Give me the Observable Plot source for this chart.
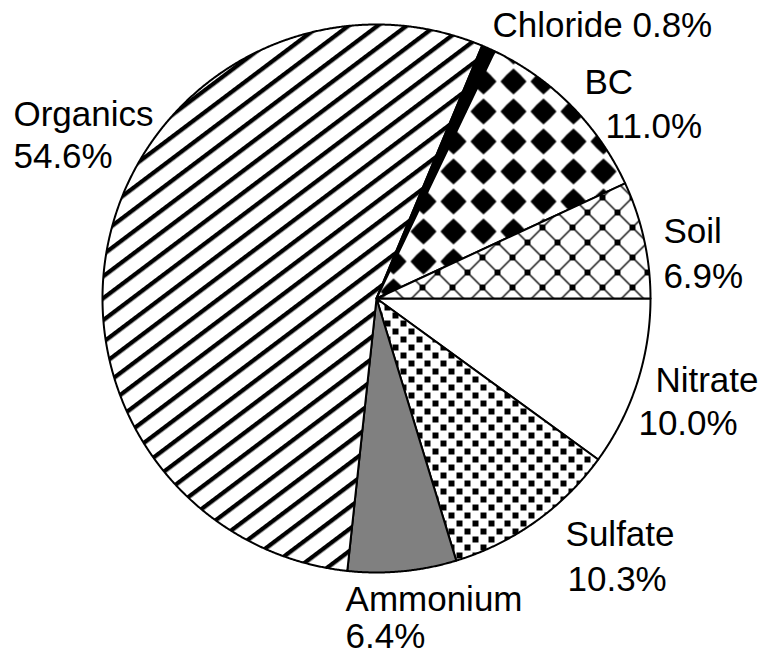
<!DOCTYPE html>
<html><head><meta charset="utf-8">
<script src="https://cdn.jsdelivr.net/npm/d3@7"></script>
<script src="https://cdn.jsdelivr.net/npm/@observablehq/plot@0.6"></script>
<style>body{margin:0;background:#fff} svg{display:block}</style>
</head><body><div id="chart"></div>
<script>
// ---- data (clockwise from 3 o'clock) ----
const components = ["Nitrate", "Sulfate", "Ammonium", "Organics", "Chloride", "BC", "Soil"];
const shares = [10.0, 10.3, 6.4, 54.6, 0.8, 11.0, 6.9];
const inlineLabel = [false, false, false, false, true, false, false];

// ---- styles ----
const fills = ["white", "url(#p-sulfate)", "#808080", "url(#p-organics)", "black", "url(#p-bc)", "url(#p-soil)"];

// ---- label layout (pie units, radius = 1) ----
const nameX = [1.018, 0.690, -0.113, -1.325, 0.423, 0.759, 1.047];
const nameY = [-0.343, -0.902, -1.139, 0.631, 0.953, 0.748, 0.201];
const pctX  = [0.956, 0.697, -0.113, -1.325, null, 0.836, 1.047];
const pctY  = [-0.500, -1.066, -1.276, 0.478, null, 0.584, 0.037];

const rows = components.map((c, i) => ({name: c, share: shares[i], fill: fills[i]}));
const pie = d3.pie().sort(null).value(d => d.share)
  .startAngle(Math.PI / 2).endAngle(Math.PI / 2 + 2 * Math.PI);
const arcs = pie(rows);
const slices = arcs.map(a => {
  const n = Math.max(2, Math.ceil((a.endAngle - a.startAngle) / 0.004));
  const pts = [{x: 0, y: 0}];
  for (let i = 0; i <= n; i++) {
    const t = a.startAngle + (a.endAngle - a.startAngle) * i / n;
    pts.push({x: Math.sin(t), y: Math.cos(t)});
  }
  pts.push({x: 0, y: 0});
  return {fill: a.data.fill, pts};
});

const labels = [];
rows.forEach((r, i) => {
  const pct = r.share.toFixed(1) + "%";
  if (inlineLabel[i]) {
    labels.push({x: nameX[i], y: nameY[i], text: r.name + " " + pct});
  } else {
    labels.push({x: nameX[i], y: nameY[i], text: r.name});
    labels.push({x: pctX[i], y: pctY[i], text: pct});
  }
});

const chart = Plot.plot({
  width: 764, height: 656, margin: 0,
  style: {background: "white", overflow: "visible"},
  x: {domain: [-1.37226, 1.41606], axis: null},
  y: {domain: [-1.30657, 1.08759], axis: null},
  marks: [
    ...slices.map(s => Plot.line(s.pts, {x: "x", y: "y", fill: s.fill, stroke: "black", strokeWidth: 2, strokeLinejoin: "round"})),
    Plot.text(labels, {x: "x", y: "y", text: "text", textAnchor: "start", lineAnchor: "bottom",
      fontSize: 35, fontFamily: "Liberation Sans, Arial, sans-serif", fill: "black"})
  ]
});

// patterns
const defs = d3.select(chart).insert("defs", ":first-child");
// Organics: wide upward diagonal
const po = defs.append("pattern").attr("id", "p-organics").attr("patternUnits", "userSpaceOnUse")
  .attr("width", 20).attr("height", 17.5).attr("patternTransform", "rotate(-37)");
po.append("rect").attr("width", 20).attr("height", 17.5).attr("fill", "white");
po.append("rect").attr("width", 20).attr("height", 4.3).attr("fill", "black");
// BC: solid diamonds grid
const pb = defs.append("pattern").attr("id", "p-bc").attr("patternUnits", "userSpaceOnUse")
  .attr("x", 18).attr("y", 6).attr("width", 30).attr("height", 30);
pb.append("rect").attr("width", 30).attr("height", 30).attr("fill", "white");
pb.append("polygon").attr("fill", "black").attr("points",
  [[0,-13],[6.8,-6.8],[13,0],[6.8,6.8],[0,13],[-6.8,6.8],[-13,0],[-6.8,-6.8]]
    .map(([a, b]) => (15 + a) + "," + (15 + b)).join(" "));
// Soil: trellis with squares
const ps = defs.append("pattern").attr("id", "p-soil").attr("patternUnits", "userSpaceOnUse")
  .attr("x", 2).attr("y", 17).attr("width", 30).attr("height", 30);
ps.append("rect").attr("width", 30).attr("height", 30).attr("fill", "white");
ps.append("path").attr("d", "M0,0L30,30M30,0L0,30").attr("stroke", "black").attr("stroke-width", 1.4);
[[0,0],[30,0],[0,30],[30,30],[15,15]].forEach(([a, b]) =>
  ps.append("rect").attr("x", a - 3).attr("y", b - 3).attr("width", 6).attr("height", 6).attr("fill", "black"));
// Sulfate: small squares
const pq = defs.append("pattern").attr("id", "p-sulfate").attr("patternUnits", "userSpaceOnUse")
  .attr("width", 16).attr("height", 16);
pq.append("rect").attr("width", 16).attr("height", 16).attr("fill", "white");
[[0,0],[8,8]].forEach(([a, b]) =>
  pq.append("rect").attr("x", a).attr("y", b).attr("width", 6).attr("height", 6).attr("fill", "black"));

document.getElementById("chart").appendChild(chart);
</script>
</body></html>
